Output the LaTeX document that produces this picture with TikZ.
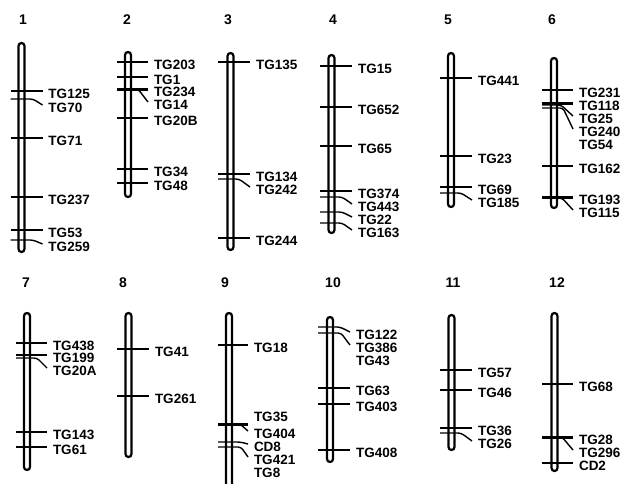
\documentclass[tikz,border=0pt]{standalone}
\usepackage{fontspec}
\setmainfont{Liberation Sans}

\begin{document}
\begin{tikzpicture}[x=1pt, y=-1pt,
  rod/.style={line width=2.2pt, rounded corners=3pt},
  tick/.style={line width=1.4pt, rounded corners=3pt},
  boldtick/.style={line width=3pt},
  lab/.style={anchor=west, inner sep=0pt, outer xsep=6pt, font=\fontsize{13.5}{14}\selectfont\bfseries},
  num/.style={font=\fontsize{14}{14}\selectfont\bfseries},
]
  \useasboundingbox (0,0) rectangle (630,483);
  % chromosome numbers
  \node[num] (n1) at (23,20) {1};
  \node[num] (n2) at (127,20) {2};
  \node[num] (n3) at (228,20) {3};
  \node[num] (n4) at (333,20) {4};
  \node[num] (n5) at (448,20) {5};
  \node[num] (n6) at (552,20) {6};
  \node[num] (n7) at (26,283) {7};
  \node[num] (n8) at (123,283) {8};
  \node[num] (n9) at (225,283) {9};
  \node[num] (n10) at (333,283) {10};
  \node[num] (n11) at (453,283) {11};
  \node[num] (n12) at (557,283) {12};
  % chromosomes
  \draw[rod] (18.5,43) rectangle (24.5,252);
  \draw[rod] (125,52) rectangle (131,197);
  \draw[rod] (227.5,53) rectangle (233.5,250);
  \draw[rod] (328.5,55) rectangle (334.5,233);
  \draw[rod] (448,53) rectangle (454,207);
  \draw[rod] (551,58) rectangle (557,208);
  \draw[rod] (24,313) rectangle (30,470);
  \draw[rod] (125.5,313) rectangle (131.5,457);
  \draw[rod] (226,313) rectangle (232,495);
  \draw[rod] (327,317) rectangle (333,462);
  \draw[rod] (448.5,315) rectangle (454.5,450);
  \draw[rod] (551.5,313) rectangle (557.5,471);
  % 1
  \node[lab] (tg125) at (42.5,94) {TG125};
  \draw[tick] (10.5,91) -- ([yshift=3pt]tg125.west);
  \node[lab] (tg70) at (42.5,108) {TG70};
  \draw[tick] (10.5,99) -- (33,99) -- ([yshift=3pt]tg70.west);
  \node[lab] (tg71) at (42.5,141) {TG71};
  \draw[tick] (10.5,138) -- ([yshift=3pt]tg71.west);
  \node[lab] (tg237) at (42.5,200) {TG237};
  \draw[tick] (10.5,197) -- ([yshift=3pt]tg237.west);
  \node[lab] (tg53) at (42.5,233) {TG53};
  \draw[tick] (10.5,230) -- ([yshift=3pt]tg53.west);
  \node[lab] (tg259) at (42.5,247) {TG259};
  \draw[tick] (10.5,240) -- (33,240) -- ([yshift=3pt]tg259.west);
  % 2
  \node[lab] (tg203) at (148,65) {TG203};
  \draw[tick] (117,62) -- ([yshift=3pt]tg203.west);
  \node[lab] (tg1) at (148,80) {TG1};
  \draw[tick] (117,77) -- ([yshift=3pt]tg1.west);
  \node[lab] (tg234) at (148,92) {TG234};
  \draw[boldtick] (117,89) -- ([yshift=3pt]tg234.west);
  \node[lab] (tg14) at (148,105) {TG14};
  \draw[tick] (117,89) -- (138,89) -- ([yshift=3pt]tg14.west);
  \node[lab] (tg20b) at (148,121) {TG20B};
  \draw[tick] (117,118) -- ([yshift=3pt]tg20b.west);
  \node[lab] (tg34) at (148,172) {TG34};
  \draw[tick] (117,169) -- ([yshift=3pt]tg34.west);
  \node[lab] (tg48) at (148,186) {TG48};
  \draw[tick] (117,183) -- ([yshift=3pt]tg48.west);
  % 3
  \node[lab] (tg135) at (250,65) {TG135};
  \draw[tick] (218,62) -- ([yshift=3pt]tg135.west);
  \node[lab] (tg134) at (250,177) {TG134};
  \draw[tick] (218,174) -- ([yshift=3pt]tg134.west);
  \node[lab] (tg242) at (250,190) {TG242};
  \draw[tick] (218,179) -- (239,179) -- ([yshift=3pt]tg242.west);
  \node[lab] (tg244) at (250,241) {TG244};
  \draw[tick] (218,238) -- ([yshift=3pt]tg244.west);
  % 4
  \node[lab] (tg15) at (352,69) {TG15};
  \draw[tick] (320,66) -- ([yshift=3pt]tg15.west);
  \node[lab] (tg652) at (352,110) {TG652};
  \draw[tick] (320,107) -- ([yshift=3pt]tg652.west);
  \node[lab] (tg65) at (352,149) {TG65};
  \draw[tick] (320,146) -- ([yshift=3pt]tg65.west);
  \node[lab] (tg374) at (352,194) {TG374};
  \draw[tick] (320,191) -- ([yshift=3pt]tg374.west);
  \node[lab] (tg443) at (352,207) {TG443};
  \draw[tick] (320,197) -- (342,197) -- ([yshift=3pt]tg443.west);
  \node[lab] (tg22) at (352,220) {TG22};
  \draw[tick] (320,212) -- (342,212) -- ([yshift=3pt]tg22.west);
  \node[lab] (tg163) at (352,233) {TG163};
  \draw[tick] (320,223) -- (342,223) -- ([yshift=3pt]tg163.west);
  % 5
  \node[lab] (tg441) at (472,81) {TG441};
  \draw[tick] (440,78) -- ([yshift=3pt]tg441.west);
  \node[lab] (tg23) at (472,159) {TG23};
  \draw[tick] (440,156) -- ([yshift=3pt]tg23.west);
  \node[lab] (tg69) at (472,190) {TG69};
  \draw[tick] (440,187) -- ([yshift=3pt]tg69.west);
  \node[lab] (tg185) at (472,203) {TG185};
  \draw[tick] (440,193) -- (461,193) -- ([yshift=3pt]tg185.west);
  % 6
  \node[lab] (tg231) at (573,93) {TG231};
  \draw[tick] (542,90) -- ([yshift=3pt]tg231.west);
  \node[lab] (tg118) at (573,106) {TG118};
  \draw[boldtick] (542,103) -- ([yshift=3pt]tg118.west);
  \node[lab] (tg25) at (573,119) {TG25};
  \draw[tick] (542,105) -- (561,105) -- ([yshift=3pt]tg25.west);
  \node[lab] (tg240) at (573,132) {TG240};
  \draw[tick] (542,108) -- (563,108) -- ([yshift=3pt]tg240.west);
  \node[lab] (tg54) at (573,145) {TG54};
  \node[lab] (tg162) at (573,169) {TG162};
  \draw[tick] (542,166) -- ([yshift=3pt]tg162.west);
  \node[lab] (tg193) at (573,200) {TG193};
  \draw[boldtick] (542,197) -- ([yshift=3pt]tg193.west);
  \node[lab] (tg115) at (573,213) {TG115};
  \draw[tick] (542,198) -- (562,198) -- ([yshift=3pt]tg115.west);
  % 7
  \node[lab] (tg438) at (47,346) {TG438};
  \draw[tick] (16,343) -- ([yshift=3pt]tg438.west);
  \node[lab] (tg199) at (47,358) {TG199};
  \draw[tick] (16,355) -- ([yshift=3pt]tg199.west);
  \node[lab] (tg20a) at (47,371) {TG20A};
  \draw[tick] (16,358) -- (37,358) -- ([yshift=3pt]tg20a.west);
  \node[lab] (tg143) at (47,435) {TG143};
  \draw[tick] (16,432) -- ([yshift=3pt]tg143.west);
  \node[lab] (tg61) at (47,450) {TG61};
  \draw[tick] (16,447) -- ([yshift=3pt]tg61.west);
  % 8
  \node[lab] (tg41) at (149,352) {TG41};
  \draw[tick] (117,349) -- ([yshift=3pt]tg41.west);
  \node[lab] (tg261) at (149,399) {TG261};
  \draw[tick] (117,396) -- ([yshift=3pt]tg261.west);
  % 9
  \node[lab] (tg18) at (248,348) {TG18};
  \draw[tick] (218,345) -- ([yshift=3pt]tg18.west);
  \node[lab] (tg35) at (248,417) {TG35};
  \draw[boldtick] (218,424) -- (tg35.west |- 218,424);
  \node[lab] (tg404) at (248,434) {TG404};
  \draw[tick] (218,424) -- (240,424) -- ([yshift=3pt]tg404.west);
  \node[lab] (cd8) at (248,447) {CD8};
  \draw[tick] (218,442) -- (240,442) -- ([yshift=3pt]cd8.west);
  \node[lab] (tg421) at (248,460) {TG421};
  \draw[tick] (218,447) -- (241,447) -- ([yshift=3pt]tg421.west);
  \node[lab] (tg8) at (248,473) {TG8};
  % 10
  \node[lab] (tg122) at (350,335) {TG122};
  \draw[tick] (318,327) -- (340,327) -- ([yshift=3pt]tg122.west);
  \node[lab] (tg386) at (350,348) {TG386};
  \draw[tick] (318,333) -- (341,333) -- ([yshift=3pt]tg386.west);
  \node[lab] (tg43) at (350,361) {TG43};
  \node[lab] (tg63) at (350,391) {TG63};
  \draw[tick] (318,388) -- ([yshift=3pt]tg63.west);
  \node[lab] (tg403) at (350,407) {TG403};
  \draw[tick] (318,404) -- ([yshift=3pt]tg403.west);
  \node[lab] (tg408) at (350,453) {TG408};
  \draw[tick] (318,450) -- ([yshift=3pt]tg408.west);
  % 11
  \node[lab] (tg57) at (472,373) {TG57};
  \draw[tick] (440,370) -- ([yshift=3pt]tg57.west);
  \node[lab] (tg46) at (472,393) {TG46};
  \draw[tick] (440,390) -- ([yshift=3pt]tg46.west);
  \node[lab] (tg36) at (472,431) {TG36};
  \draw[tick] (440,428) -- ([yshift=3pt]tg36.west);
  \node[lab] (tg26) at (472,444) {TG26};
  \draw[tick] (440,433) -- (461,433) -- ([yshift=3pt]tg26.west);
  % 12
  \node[lab] (tg68) at (573,387) {TG68};
  \draw[tick] (542,384) -- ([yshift=3pt]tg68.west);
  \node[lab] (tg28) at (573,440) {TG28};
  \draw[boldtick] (542,437) -- ([yshift=3pt]tg28.west);
  \node[lab] (tg296) at (573,453) {TG296};
  \draw[tick] (542,437) -- (562,437) -- ([yshift=3pt]tg296.west);
  \node[lab] (cd2) at (573,466) {CD2};
  \draw[tick] (542,463) -- ([yshift=3pt]cd2.west);
\end{tikzpicture}
\end{document}
